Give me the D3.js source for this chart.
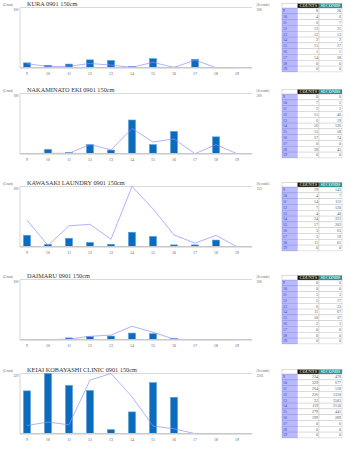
<!DOCTYPE html>
<html>
<head>
<meta charset="utf-8">
<script src="https://cdn.jsdelivr.net/npm/d3@7"></script>
<style>
  body { margin: 0; background: #fff; }
  svg { display: block; font-family: "Liberation Serif", "DejaVu Serif", serif; }
</style>
</head>
<body>
<div id="chart"></div>
<script>
const hours = ['9', '10', '11', '12', '13', '14', '15', '16', '17', '18', '19'];

const kuraCounts = [8, 4, 6, 13, 12, 2, 15, 1, 14, 0, 0];
const kuraSeconds = [20, 6, 7, 21, 13, 2, 27, 1, 38, 0, 0];
const nakaminatoCounts = [0, 7, 2, 15, 6, 56, 15, 37, 0, 28, 0];
const nakaminatoSeconds = [0, 2, 2, 46, 19, 126, 58, 74, 0, 45, 0];
const kawasakiCounts = [19, 4, 14, 7, 4, 24, 17, 3, 3, 11, 0];
const kawasakiSeconds = [143, 7, 112, 120, 40, 323, 203, 63, 19, 61, 0];
const daimaruCounts = [0, 0, 3, 5, 6, 11, 10, 2, 0, 0, 0];
const daimaruSeconds = [0, 0, 3, 17, 23, 67, 37, 3, 0, 0, 0];
const keiaiCounts = [234, 329, 264, 236, 22, 119, 279, 199, 0, 0, 0];
const keiaiSeconds = [478, 677, 518, 3118, 3503, 2150, 445, 289, 0, 0, 0];

const panels = [
  { title: 'KURA 0901 150cm', counts: kuraCounts, seconds: kuraSeconds },
  { title: 'NAKAMINATO EKI 0901 150cm', counts: nakaminatoCounts, seconds: nakaminatoSeconds },
  { title: 'KAWASAKI LAUNDRY 0901 150cm', counts: kawasakiCounts, seconds: kawasakiSeconds },
  { title: 'DAIMARU 0901 150cm', counts: daimaruCounts, seconds: daimaruSeconds },
  { title: 'KEIAI KOBAYASHI CLINIC 0901 150cm', counts: keiaiCounts, seconds: keiaiSeconds }
];

// vertical offset of each panel on the page
const panelTops = [0, 86, 179, 272, 366];

const W = 350, H = 467;
const plotLeft = 20, plotRight = 252, plotTop = 7.5, plotBottom = 67.7;

const svg = d3.select('#chart').append('svg').attr('width', W).attr('height', H);

const x = d3.scaleBand().domain(hours).range([16.5, 247.5]).paddingInner(0.667).paddingOuter(0.333);

panels.forEach((p, pi) => {
  const g = svg.append('g').attr('transform', `translate(0,${panelTops[pi]})`);
  const countMax = Math.max(100, d3.max(p.counts));
  const secMax = Math.max(300, d3.max(p.seconds));
  const yC = d3.scaleLinear().domain([0, countMax]).range([plotBottom, plotTop]);
  const yS = d3.scaleLinear().domain([0, secMax]).range([plotBottom, plotTop]);

  // frame
  g.append('line').attr('x1', plotLeft).attr('x2', plotRight).attr('y1', plotTop).attr('y2', plotTop)
    .attr('stroke', '#d0d0d0').attr('stroke-width', 0.8);
  g.append('line').attr('x1', plotLeft).attr('x2', plotLeft).attr('y1', plotTop).attr('y2', plotBottom)
    .attr('stroke', '#b8b8b8').attr('stroke-width', 0.6);

  // labels
  g.append('text').attr('x', 27).attr('y', 6.3).attr('font-size', '6.3px').attr('fill', '#333').text(p.title);
  g.append('text').attr('x', 3).attr('y', 5.8).attr('font-size', '3.2px').attr('fill', '#666').text('(Count)');
  g.append('text').attr('x', 18.5).attr('y', 11).attr('text-anchor', 'end').attr('font-size', '3.4px').attr('fill', '#666').text(countMax);
  g.append('text').attr('x', 256.5).attr('y', 5.8).attr('font-size', '3.2px').attr('fill', '#666').text('(Seconds)');
  g.append('text').attr('x', 256.5).attr('y', 11).attr('font-size', '3.4px').attr('fill', '#666').text(secMax);

  // bars
  g.selectAll('.bar').data(p.counts).enter().append('rect')
    .attr('x', (_, i) => x(hours[i])).attr('width', x.bandwidth())
    .attr('y', d => yC(d)).attr('height', d => plotBottom - yC(d))
    .attr('fill', '#0b6cbd').attr('stroke', '#5a9bd6').attr('stroke-width', 0.6);

  // seconds line
  const line = d3.line().x((_, i) => x(hours[i]) + x.bandwidth() / 2).y(d => yS(d));
  g.append('path').datum(p.seconds).attr('d', line)
    .attr('fill', 'none').attr('stroke', '#8f8fff').attr('stroke-width', 0.7);

  // x axis
  const ax = g.append('g').attr('transform', `translate(0,${plotBottom})`)
    .call(d3.axisBottom(x).tickSize(0).tickPadding(4.5));
  ax.select('.domain').attr('d', `M${plotLeft},0H${plotRight}`).attr('stroke', '#c8c8c8').attr('stroke-width', 1.4);
  ax.selectAll('text').attr('font-size', '3.8px').attr('fill', '#555').attr('font-family', '"Liberation Serif", serif');

  // table
  const tx = 282, tTop = 3.5, headH = 4.6, rowH = 5.8;
  const cols = [tx, 297.5, 319, 342];
  const tg = g.append('g');
  tg.append('rect').attr('x', cols[0]).attr('y', tTop).attr('width', cols[1] - cols[0]).attr('height', headH)
    .attr('fill', '#fff').attr('stroke', '#aaa').attr('stroke-width', 0.4);
  tg.append('rect').attr('x', cols[1]).attr('y', tTop).attr('width', cols[2] - cols[1]).attr('height', headH)
    .attr('fill', '#111').attr('stroke', '#aaa').attr('stroke-width', 0.4);
  tg.append('rect').attr('x', cols[2]).attr('y', tTop).attr('width', cols[3] - cols[2]).attr('height', headH)
    .attr('fill', '#0f8a88').attr('stroke', '#aaa').attr('stroke-width', 0.4);
  tg.append('text').attr('x', (cols[1] + cols[2]) / 2).attr('y', tTop + 3.7).attr('text-anchor', 'middle')
    .attr('font-size', '4.2px').attr('font-weight', 'bold').attr('fill', '#e8dc9a').text('COUNTS');
  tg.append('text').attr('x', (cols[2] + cols[3]) / 2).attr('y', tTop + 3.7).attr('text-anchor', 'middle')
    .attr('font-size', '4.2px').attr('font-weight', 'bold').attr('fill', '#e8fafa').text('SECONDS');

  hours.forEach((h, i) => {
    const ry = tTop + headH + i * rowH;
    tg.append('rect').attr('x', cols[0]).attr('y', ry).attr('width', cols[1] - cols[0]).attr('height', rowH)
      .attr('fill', '#b9b9ff').attr('stroke', '#8888cc').attr('stroke-width', 0.4);
    tg.append('rect').attr('x', cols[1]).attr('y', ry).attr('width', cols[2] - cols[1]).attr('height', rowH)
      .attr('fill', '#fff').attr('stroke', '#bbb').attr('stroke-width', 0.4);
    tg.append('rect').attr('x', cols[2]).attr('y', ry).attr('width', cols[3] - cols[2]).attr('height', rowH)
      .attr('fill', '#fff').attr('stroke', '#bbb').attr('stroke-width', 0.4);
    tg.append('text').attr('x', cols[0] + 1).attr('y', ry + 4.3).attr('font-size', '4px').attr('fill', '#3a3a8a').text(h);
    tg.append('text').attr('x', cols[2] - 1).attr('y', ry + 4.3).attr('text-anchor', 'end').attr('font-size', '4px').attr('fill', '#555').text(p.counts[i]);
    tg.append('text').attr('x', cols[3] - 1).attr('y', ry + 4.3).attr('text-anchor', 'end').attr('font-size', '4px').attr('fill', '#555').text(p.seconds[i]);
  });
});
</script>
</body>
</html>
